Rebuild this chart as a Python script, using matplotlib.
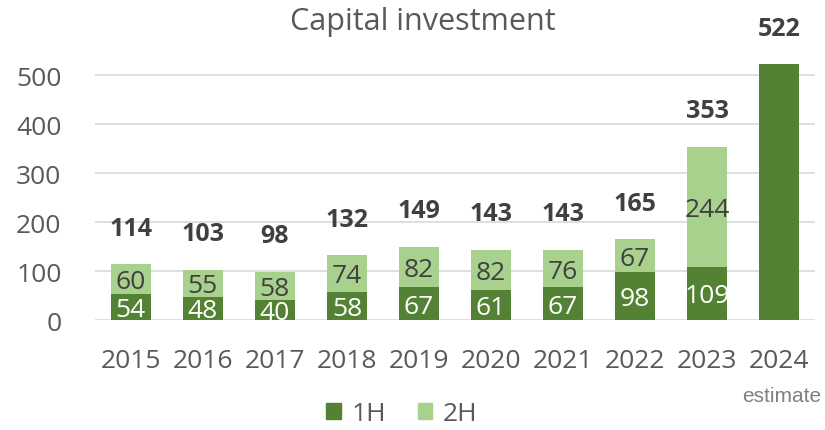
import numpy as np
import matplotlib.pyplot as plt
from matplotlib.patches import Patch

# Capital investment by half-year
years = ['2015', '2016', '2017', '2018', '2019', '2020', '2021', '2022', '2023', '2024']
h1 = [54, 48, 40, 58, 67, 61, 67, 98, 109, 522]
h2 = [60, 55, 58, 74, 82, 82, 76, 67, 244, 0]
show_inside = [True] * 9 + [False]  # 2024 estimate has no split labels

dark = '#548235'
light = '#A9D18E'
grey = '#595959'
plt.rcParams['font.family'] = ['Open Sans', 'DejaVu Sans']

fig = plt.figure(figsize=(8.25, 4.31), dpi=100)
ax = fig.add_axes([0.115, 0.255, 0.873, 0.614])

x = np.arange(len(years))
h1 = np.array(h1)
h2 = np.array(h2)
totals = h1 + h2

ax.bar(x, h1, width=0.55, color=dark, zorder=3, clip_on=False)
ax.bar(x, h2, bottom=h1, width=0.55, color=light, zorder=3, clip_on=False)

for i in range(len(years)):
    if show_inside[i]:
        ax.text(x[i], h1[i] / 2 - 5, str(h1[i]), ha='center', va='center',
                color='white', fontsize=19, zorder=4)
        ax.text(x[i], h1[i] + h2[i] / 2 - 5, str(h2[i]), ha='center', va='center',
                color='#404040', fontsize=19, zorder=4)
    ax.annotate(str(totals[i]), (x[i], totals[i]), xytext=(0, 26), textcoords='offset points',
                ha='center', va='center', fontsize=18, fontweight='bold', color='#404040',
                annotation_clip=False)

ax.set_ylim(0, 540)
ax.set_xlim(-0.5, len(years) - 0.5)
ax.set_yticks(range(0, 501, 100))
ax.yaxis.grid(True, color='#D9D9D9', lw=1.2, zorder=0)
ax.set_axisbelow(True)
for s in ax.spines.values():
    s.set_visible(False)
ax.tick_params(length=0, labelsize=19, labelcolor=grey)
ax.tick_params(axis='x', pad=20)
ax.tick_params(axis='y', pad=24)
ax.set_xticks(x, years)

fig.text(0.512, 0.948, 'Capital investment', ha='center', va='center', fontsize=22, color=grey)
fig.text(0.948, 0.08, 'estimate', ha='center', va='center', fontsize=15, color='#7f7f7f',
         family=['Liberation Sans', 'DejaVu Sans'])

handles = [Patch(color=dark, label='1H'), Patch(color=light, label='2H')]
fig.legend(handles=handles, loc='center', bbox_to_anchor=(0.487, 0.038), ncol=2, frameon=False,
           fontsize=19, labelcolor=grey, handlelength=0.55, handleheight=0.55,
           handletextpad=0.4, columnspacing=1.2)

fig.savefig('out.png', dpi=100)
